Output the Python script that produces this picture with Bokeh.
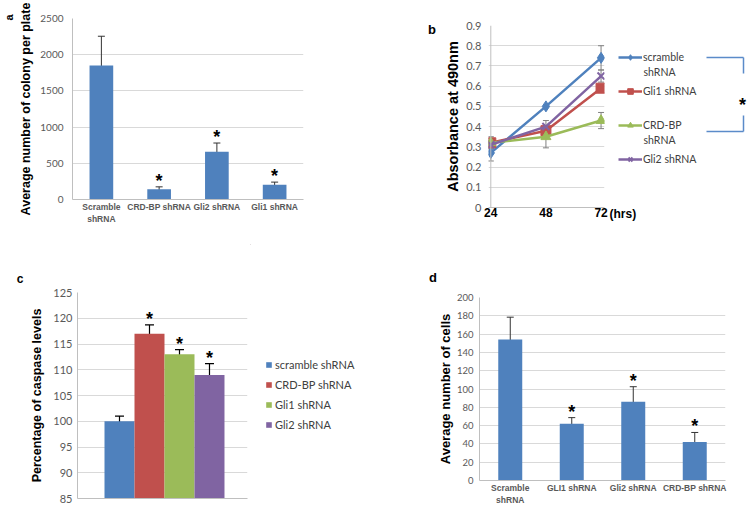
import math
from bokeh.plotting import figure
from bokeh.layouts import column, row
from bokeh.models import (ColumnDataSource, Whisker, TeeHead, Legend, LegendItem,
                          Range1d, FactorRange, FixedTicker, Span, Div)
from bokeh.core.properties import value
from bokeh.embed import file_html
from bokeh.resources import INLINE

# ---------------- data ----------------
# panel a
a_labels = ["Scramble\nshRNA", "CRD-BP shRNA", "Gli2 shRNA", "Gli1 shRNA"]
a_values = [1850, 140, 660, 205]
a_errors = [405, 35, 120, 35]
a_sig = [False, True, True, True]
a_yticks = [0, 500, 1000, 1500, 2000, 2500]

# panel b
b_hours = [24, 48, 72]
b_series = ["scramble", "Gli1 shRNA", "CRD-BP", "Gli2 shRNA"]
b_scramble = [0.27, 0.50, 0.74]
b_scramble_err = [0.04, 0.0, 0.06]
b_gli1 = [0.32, 0.38, 0.59]
b_gli1_err = [0.03, 0.02, 0.01]
b_crdbp = [0.32, 0.35, 0.43]
b_crdbp_err = [0.02, 0.055, 0.04]
b_gli2 = [0.31, 0.40, 0.65]
b_gli2_err = [0.02, 0.03, 0.03]
b_yticks = [0, 0.1, 0.2, 0.3, 0.4, 0.5, 0.6, 0.7, 0.8, 0.9]
b_ytick_labels = ["0", "0.1", "0.2", "0.3", "0.4", "0.5", "0.6", "0.7", "0.8", "0.9"]

# panel c
c_labels = ["scramble shRNA", "CRD-BP shRNA", "Gli1 shRNA", "Gli2 shRNA"]
c_values = [100, 117, 113, 109]
c_errors = [1.0, 1.7, 0.9, 2.2]
c_sig = [False, True, True, True]
c_yticks = [85, 90, 95, 100, 105, 110, 115, 120, 125]

# panel d
d_labels = ["Scramble\nshRNA", "GLI1 shRNA", "Gli2 shRNA", "CRD-BP shRNA"]
d_values = [154, 62, 86, 42]
d_errors = [24.5, 6.7, 16.5, 10.5]
d_sig = [False, True, True, True]
d_yticks = [0, 20, 40, 60, 80, 100, 120, 140, 160, 180, 200]

# ---------------- style ----------------
TFONT = "Liberation Sans"
KFONT = "Lato"
GRID = "#d9d9d9"
AXIS = "#bfbfbf"
TICK = "#595959"
BLUE = "#4F81BD"
RED = "#C0504D"
GREEN = "#9BBB59"
PURPLE = "#8064A2"
STAR_OFF = -6


def base_style(p, title_size, tick_size, lab_standoff, title_standoff):
    p.outline_line_color = None
    p.border_fill_color = "white"
    p.background_fill_color = "white"
    p.xgrid.grid_line_color = None
    p.ygrid.grid_line_color = GRID
    p.ygrid.grid_line_width = 1
    for ax in (p.xaxis, p.yaxis):
        ax.axis_line_color = AXIS
        ax.major_tick_line_color = None
        ax.minor_tick_line_color = None
        ax.major_tick_out = 0
        ax.major_tick_in = 0
    p.yaxis.major_label_text_font = KFONT
    p.yaxis.major_label_text_font_size = tick_size
    p.yaxis.major_label_text_color = TICK
    p.yaxis.major_label_standoff = lab_standoff
    p.yaxis.axis_label_text_font = TFONT
    p.yaxis.axis_label_text_font_style = "bold"
    p.yaxis.axis_label_text_font_size = title_size
    p.yaxis.axis_label_text_color = "black"
    p.yaxis.axis_label_standoff = title_standoff


def letter_div(txt, w, h, left, top, size):
    html = ('<div style="position:relative;left:%dpx;top:%dpx;width:14px;height:14px;'
            'line-height:14px;text-align:center;font-family:\'Liberation Sans\';'
            'font-weight:bold;font-size:%s;color:black;">%s</div>' % (left, top, size, txt))
    return Div(text=html, width=w, height=h, margin=0)


def blank_fig(w, h, x0, x1, y0, y1):
    p = figure(width=w, height=h, x_range=Range1d(x0, x1), y_range=Range1d(y1, y0),
               x_axis_location=None, y_axis_location=None, min_border=0,
               output_backend="svg", toolbar_location=None)
    p.outline_line_color = None
    p.grid.visible = False
    return p


def bar_panel(labels, values, errors, sig, yticks, ymax, width, height, borders,
              title, title_size, tick_size, lab_standoff, title_standoff, bar_w, cap):
    p = figure(x_range=FactorRange(factors=labels), y_range=Range1d(0, ymax),
               width=width, height=height, min_border_left=borders[0],
               min_border_right=borders[1], min_border_top=borders[2],
               min_border_bottom=borders[3], output_backend="svg", toolbar_location=None)
    base_style(p, title_size, tick_size, lab_standoff, title_standoff)
    p.yaxis.ticker = FixedTicker(ticks=yticks)
    p.yaxis.axis_label = title
    p.xaxis.major_label_text_font = TFONT
    p.xaxis.major_label_text_font_style = "bold"
    p.xaxis.major_label_text_font_size = "8.5px"
    p.xaxis.major_label_text_color = TICK
    p.xaxis.major_label_standoff = 2
    src = ColumnDataSource(dict(x=labels, top=values,
                                upper=[v + e for v, e in zip(values, errors)],
                                lower=[v - e for v, e in zip(values, errors)]))
    p.vbar(x="x", top="top", width=bar_w, source=src, fill_color=BLUE, line_color=None)
    p.add_layout(Whisker(source=src, base="x", upper="upper", lower="lower",
                         line_color="#333333", line_width=1,
                         upper_head=TeeHead(size=cap, line_color="#333333", line_width=1),
                         lower_head=TeeHead(size=cap, line_color="#333333", line_width=1)))
    sx = [l for l, s in zip(labels, sig) if s]
    sy = [v + e for v, e, s in zip(values, errors, sig) if s]
    p.text(x=sx, y=sy, text=["*"] * len(sx), text_font=value(TFONT), text_font_style="bold",
           text_font_size="18px", text_align="center", text_baseline="alphabetic",
           y_offset=STAR_OFF, text_color="black")
    return p


# ================= top row =================
fa = blank_fig(16, 244, 0, 16, 0, 244)
fa.text(x=[8], y=[17], text=["a"], angle=math.pi / 2, text_font=value(TFONT),
        text_font_style="bold", text_font_size="11px", text_align="center",
        text_baseline="middle", text_color="black")

pa = bar_panel(a_labels, a_values, a_errors, a_sig, a_yticks, 2500, 404, 244,
               (52, 117, 18, 45), "Average number of colony per plate", "12.5px", "10px",
               9, 4, 0.41, 7)

div_b = letter_div("b", 22, 244, 5, 22, "13px")

# panel b
pb = figure(x_range=Range1d(23, 73.5), y_range=Range1d(0, 0.9), width=166, height=244,
            min_border_left=44, min_border_right=4, min_border_top=25, min_border_bottom=37,
            output_backend="svg", toolbar_location=None)
base_style(pb, "14.5px", "11px", 7, 2)
pb.yaxis.axis_line_color = None
pb.add_layout(Span(location=24, dimension="height", line_color=AXIS, line_width=1))
pb.yaxis.ticker = FixedTicker(ticks=b_yticks)
pb.yaxis.major_label_overrides = {t: l for t, l in zip(b_yticks, b_ytick_labels)}
pb.yaxis.axis_label = "Absorbance at 490nm"
pb.xaxis.ticker = FixedTicker(ticks=b_hours)
pb.xaxis.major_label_text_font = TFONT
pb.xaxis.major_label_text_font_style = "bold"
pb.xaxis.major_label_text_font_size = "12px"
pb.xaxis.major_label_text_color = "black"
pb.xaxis.major_label_standoff = 0

b_vals = [b_scramble, b_gli1, b_crdbp, b_gli2]
b_errs = [b_scramble_err, b_gli1_err, b_crdbp_err, b_gli2_err]
b_cols = [BLUE, RED, GREEN, PURPLE]
b_markers = ["diamond", "square", "triangle", "x"]
b_msize = [11, 10, 10, 10]
for vals, errs, col, mk, ms in zip(b_vals, b_errs, b_cols, b_markers, b_msize):
    src = ColumnDataSource(dict(x=b_hours, y=vals,
                                upper=[v + e for v, e in zip(vals, errs)],
                                lower=[v - e for v, e in zip(vals, errs)]))
    pb.line("x", "y", source=src, line_color=col, line_width=2.5)
    pb.scatter("x", "y", source=src, marker=mk, size=ms, fill_color=col,
               line_color=col, line_width=2 if mk == "x" else 1)
    pb.add_layout(Whisker(source=src, base="x", upper="upper", lower="lower",
                          line_color="#808080", line_width=1,
                          upper_head=TeeHead(size=6, line_color="#808080", line_width=1),
                          lower_head=TeeHead(size=6, line_color="#808080", line_width=1)))

# legend / bracket area of panel b (coordinates = page pixels)
bl = blank_fig(140, 244, 608, 748, 0, 244)
items = []
for name, col, mk, ms in zip(b_series, b_cols, b_markers, b_msize):
    # legend sample renderers (their points lie outside the visible area)
    lr = bl.line(x=[0, 1], y=[0, 0], line_color=col, line_width=2.5)
    sr = bl.scatter(x=[0], y=[0], marker=mk, size=ms - 2, fill_color=col, line_color=col,
                    line_width=2 if mk == "x" else 1)
    items.append(LegendItem(label=name, renderers=[lr, sr]))
bl.add_layout(Legend(items=items, location=(10, 78), padding=0, margin=0, spacing=20,
                     glyph_width=24, glyph_height=14, label_height=14, label_standoff=1,
                     label_text_font=KFONT, label_text_font_size="10.5px",
                     label_text_color="#404040", border_line_color=None,
                     background_fill_alpha=0))
bl.text(x=[643, 643], y=[71, 139], text=["shRNA", "shRNA"], text_font=value(KFONT),
        text_font_size="10.5px", text_color="#404040", text_baseline="middle",
        text_align="left")
bl.text(x=[609], y=[213], text=["(hrs)"], text_font=value(TFONT), text_font_style="bold",
        text_font_size="12px", text_baseline="middle", text_align="left", text_color="black")
bl.segment(x0=[706, 743, 706, 743], y0=[57, 57, 131, 131],
           x1=[743, 743, 743, 743], y1=[57, 73, 131, 115],
           line_color="#5B8BC9", line_width=1.5)
bl.text(x=[742], y=[104], text=["*"], text_font=value(TFONT), text_font_style="bold",
        text_font_size="18px", text_align="center", text_baseline="middle",
        text_color="black")

top = row(column(fa), column(pa), div_b, column(pb), column(bl))

# ================= bottom row =================
div_c = letter_div("c", 250, 40, 13, 27, "12px")

c_idx = list(range(len(c_labels)))
pc = figure(x_range=Range1d(-1.4, 4.267), y_range=Range1d(85, 125), width=250, height=224,
            min_border_left=77, min_border_right=3, min_border_top=8, min_border_bottom=10,
            output_backend="svg", toolbar_location=None)
base_style(pc, "12.5px", "11px", 5, 6)
pc.yaxis.ticker = FixedTicker(ticks=c_yticks)
pc.yaxis.axis_label = "Percentage of caspase levels"
pc.xaxis.ticker = FixedTicker(ticks=[])
pc.xaxis.major_label_text_font_size = "0px"
c_cols = [BLUE, RED, GREEN, PURPLE]
for i, v, col in zip(c_idx, c_values, c_cols):
    pc.vbar(x=[i], top=[v], bottom=85, width=1.0, fill_color=col, line_color=None)
src_c = ColumnDataSource(dict(x=c_idx, upper=[v + e for v, e in zip(c_values, c_errors)],
                              lower=[v - e for v, e in zip(c_values, c_errors)]))
pc.add_layout(Whisker(source=src_c, base="x", upper="upper", lower="lower",
                      line_color="black", line_width=1.2,
                      upper_head=TeeHead(size=9, line_color="black", line_width=1.2),
                      lower_head=TeeHead(size=9, line_color="black", line_width=1.2)))
csx = [i for i, s in zip(c_idx, c_sig) if s]
csy = [v + e for v, e, s in zip(c_values, c_errors, c_sig) if s]
pc.text(x=csx, y=csy, text=["*"] * len(csx), text_font=value(TFONT), text_font_style="bold",
        text_font_size="18px", text_align="center", text_baseline="alphabetic",
        y_offset=STAR_OFF, text_color="black")

# legend area of panel c (coordinates = page pixels)
cl = blank_fig(170, 264, 250, 420, 244, 508)
c_items = []
for lab, col in zip(c_labels, c_cols):
    # legend sample renderer (its single bar lies outside the visible area)
    r = cl.vbar(x=[0], top=[1], bottom=0, width=1, fill_color=col, line_color=None)
    c_items.append(LegendItem(label=lab, renderers=[r]))
cl.add_layout(Legend(items=c_items, location=(15, 77), padding=0, margin=0, spacing=6,
                     glyph_width=7, glyph_height=7, label_height=14, label_standoff=3,
                     label_text_font=KFONT, label_text_font_size="11px",
                     label_text_color="#404040", border_line_color=None,
                     background_fill_alpha=0))

div_d = letter_div("d", 328, 45, 6, 26, "13px")
pd_ = bar_panel(d_labels, d_values, d_errors, d_sig, d_yticks, 200, 328, 219,
                (59, 23, 8, 28), "Average number of cells", "13px", "9.5px",
                6, 1, 0.39, 7)

bottom = row(column(div_c, pc), column(cl), column(div_d, pd_))

layout = column(top, bottom)
open("out.html", "w").write(file_html(layout, INLINE))
